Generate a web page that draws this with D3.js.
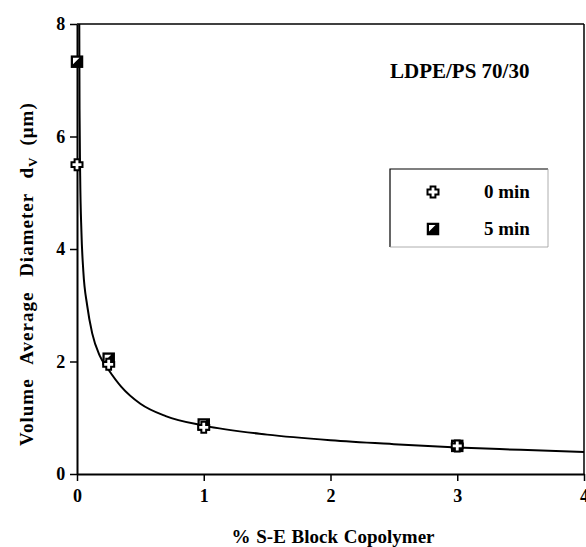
<!DOCTYPE html>
<html><head><meta charset="utf-8">
<script src="https://cdn.jsdelivr.net/npm/d3@7"></script>
<style>body{margin:0;background:#fff}svg{display:block}</style>
</head><body>
<script>
const xTicks = [0, 1, 2, 3, 4];
const yTicks = [0, 2, 4, 6, 8];
const seriesNames = ["0 min", "5 min"];
const pointX = [0, 0.25, 1, 3];
const min0 = [5.5, 1.95, 0.83, 0.5];
const min5 = [7.33, 2.05, 0.88, 0.5];
const curveX = [0.018, 0.02, 0.025, 0.035, 0.05, 0.08, 0.12, 0.18, 0.25, 0.35, 0.5, 0.7, 1.0, 1.5, 2.0, 2.5, 3.0, 3.5, 4.0];
const curveY = [8.0, 6.5, 5.3, 4.3, 3.6, 3.0, 2.5, 2.1, 1.85, 1.55, 1.25, 1.03, 0.86, 0.70, 0.60, 0.53, 0.47, 0.43, 0.39];

const W = 586, H = 547;
const m = {l: 77, r: 2, t: 24, b: 73};
const svg = d3.select("body").append("svg").attr("width", W).attr("height", H);
const x = d3.scaleLinear().domain([0, 4]).range([m.l, W - m.r]);
const y = d3.scaleLinear().domain([0, 8]).range([H - m.b, m.t]);
const font = "'Liberation Serif', 'Times New Roman', serif";

svg.append("defs").append("clipPath").attr("id", "clip")
  .append("rect").attr("x", m.l).attr("y", m.t).attr("width", x(4) - m.l).attr("height", y(0) - m.t);

// frame
svg.append("line").attr("x1", x(0)).attr("x2", x(4)).attr("y1", y(8)).attr("y2", y(8)).attr("stroke", "#000").attr("stroke-width", 1.5);
svg.append("line").attr("x1", x(4)).attr("x2", x(4)).attr("y1", y(8)).attr("y2", y(0)).attr("stroke", "#000").attr("stroke-width", 1.5);

const xa = svg.append("g").attr("transform", `translate(0,${y(0)})`)
  .call(d3.axisBottom(x).tickValues(xTicks).tickFormat(d3.format("d")).tickSize(7).tickSizeOuter(0));
const ya = svg.append("g").attr("transform", `translate(${x(0)},0)`)
  .call(d3.axisLeft(y).tickValues(yTicks).tickFormat(d3.format("d")).tickSize(7).tickSizeOuter(0));
[xa, ya].forEach(g => {
  g.select(".domain").attr("stroke-width", 2);
  g.selectAll(".tick line").attr("stroke-width", 1.5);
  g.selectAll("text").attr("font-family", font).attr("font-weight", "bold").attr("font-size", 18).attr("fill", "#000");
});
xa.selectAll("text").attr("dy", "1.0em");
ya.selectAll("text").attr("dx", "-0.1em");

// curve
const line = d3.line().x(d => x(d[0])).y(d => y(d[1])).curve(d3.curveMonotoneX);
svg.append("path").attr("clip-path", "url(#clip)")
  .datum(curveX.map((v, i) => [v, curveY[i]]))
  .attr("d", line).attr("fill", "none").attr("stroke", "#000").attr("stroke-width", 2);

// markers
function plus(g, cx, cy) {
  const a = 2.4, b = 5.5;
  const p = `M${cx - a},${cy - b}H${cx + a}V${cy - a}H${cx + b}V${cy + a}H${cx + a}V${cy + b}H${cx - a}V${cy + a}H${cx - b}V${cy - a}H${cx - a}Z`;
  g.append("path").attr("d", p).attr("fill", "#fff").attr("stroke", "#000").attr("stroke-width", 2);
}
function halfSquare(g, cx, cy) {
  const s = 5.5;
  g.append("rect").attr("x", cx - s).attr("y", cy - s).attr("width", 2 * s).attr("height", 2 * s)
    .attr("fill", "#000").attr("stroke", "#000").attr("stroke-width", 1.5);
  g.append("path").attr("d", `M${cx - s + 1.5},${cy - s + 1.5}H${cx + s - 3}L${cx - s + 1.5},${cy + s - 3}Z`).attr("fill", "#fff");
}
const mk = svg.append("g");
pointX.forEach((v, i) => halfSquare(mk, x(v), y(min5[i])));
pointX.forEach((v, i) => plus(mk, x(v), y(min0[i])));

// annotation
svg.append("text").attr("x", 390).attr("y", 78).attr("font-family", font).attr("font-weight", "bold").attr("font-size", 21).text("LDPE/PS 70/30");

// legend
const lg = svg.append("g");
lg.append("path").attr("d", "M548,169H390V247").attr("fill", "none").attr("stroke", "#000").attr("stroke-width", 1.2);
lg.append("path").attr("d", "M548,169V247H390").attr("fill", "none").attr("stroke", "#999").attr("stroke-width", 0.8);
plus(lg, 433, 192);
halfSquare(lg, 433, 229);
seriesNames.forEach((n, i) => {
  lg.append("text").attr("x", 484).attr("y", 198 + i * 37).attr("font-family", font).attr("font-weight", "bold").attr("font-size", 19).text(n);
});

// axis titles
svg.append("text").attr("x", 333).attr("y", 543).attr("text-anchor", "middle").attr("font-family", font).attr("font-weight", "bold").attr("font-size", 19)
  .attr("word-spacing", 1).text("% S-E Block Copolymer");
const yt = svg.append("text").attr("transform", "translate(33,446) rotate(-90)").attr("text-anchor", "start")
  .attr("font-family", font).attr("font-weight", "bold").attr("font-size", 19).attr("letter-spacing", 1).attr("word-spacing", 9);
yt.append("tspan").text("Volume Average Diameter d");
yt.append("tspan").attr("font-size", 13).attr("dy", 4).text("V");
yt.append("tspan").attr("dy", -4).attr("dx", 11).text("(\u03bcm)");
</script>
</body></html>
